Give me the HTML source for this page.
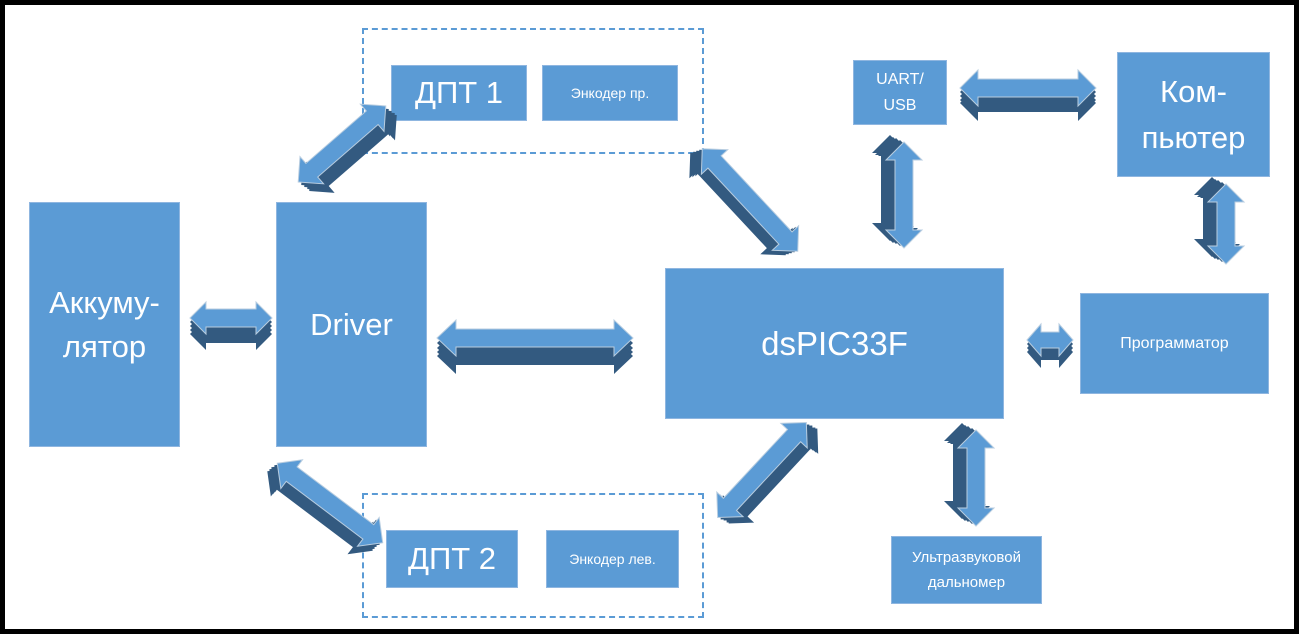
<!DOCTYPE html>
<html><head><meta charset="utf-8"><style>
body{margin:0;background:#fff}
.wrap{position:relative;width:1299px;height:634px;overflow:hidden;background:#fff}
.frame{position:absolute;left:0;top:0;width:1289px;height:624px;border:5px solid #000}
.b{position:absolute;background:#5b9bd5;color:#fff;font-family:"Liberation Sans","DejaVu Sans",sans-serif;display:flex;align-items:center;justify-content:center;text-align:center;border:1px solid #8fb6e0;box-sizing:border-box}
.d{position:absolute;border:2px dashed #5b9bd5;box-sizing:border-box}
svg{position:absolute;left:0;top:0}
.dk use{fill:#335a80}
</style></head><body><div class="wrap">
<div class="d" style="left:362px;top:28px;width:342px;height:126px"></div>
<div class="d" style="left:362px;top:493px;width:342px;height:125px"></div>
<div class="b" style="left:29px;top:202px;width:151px;height:245px;font-size:31px;line-height:44px">Аккуму-<br>лятор</div>
<div class="b" style="left:276px;top:202px;width:151px;height:245px;font-size:31px;align-items:flex-start;padding-top:104px">Driver</div>
<div class="b" style="left:665px;top:268px;width:339px;height:151px;font-size:33px">dsPIC33F</div>
<div class="b" style="left:391px;top:65px;width:136px;height:56px;font-size:31px">ДПТ 1</div>
<div class="b" style="left:542px;top:65px;width:136px;height:56px;font-size:14px">Энкодер пр.</div>
<div class="b" style="left:386px;top:530px;width:132px;height:58px;font-size:31px">ДПТ 2</div>
<div class="b" style="left:546px;top:530px;width:133px;height:58px;font-size:14px">Энкодер лев.</div>
<div class="b" style="left:853px;top:60px;width:94px;height:65px;font-size:16px;line-height:26px">UART/<br>USB</div>
<div class="b" style="left:1117px;top:52px;width:153px;height:125px;font-size:31px;line-height:46px">Ком-<br>пьютер</div>
<div class="b" style="left:1080px;top:293px;width:189px;height:101px;font-size:16px">Программатор</div>
<div class="b" style="left:891px;top:536px;width:151px;height:68px;font-size:15px;line-height:25px">Ультразвуковой<br>дальномер</div>
<svg width="1299" height="634" viewBox="0 0 1299 634">
<defs>
<path id="a1" transform="translate(231,318)" d="M-41,0 L-25,-16 L-25,-9 L25,-9 L25,-16 L41,0 L25,16 L25,9 L-25,9 L-25,16Z"/>
<path id="a2" transform="translate(535,338)" d="M-98,0 L-79,-18 L-79,-9 L79,-9 L79,-18 L98,0 L79,18 L79,9 L-79,9 L-79,18Z"/>
<path id="a3" transform="translate(342,144) rotate(-41)" d="M-58,0 L-40,-18 L-40,-9 L40,-9 L40,-18 L58,0 L40,18 L40,9 L-40,9 L-40,18Z"/>
<path id="a4" transform="translate(750,200) rotate(47)" d="M-70,0 L-52,-18 L-52,-9 L52,-9 L52,-18 L70,0 L52,18 L52,9 L-52,9 L-52,18Z"/>
<path id="a5" transform="translate(330,503) rotate(37)" d="M-66,0 L-48,-18 L-48,-9 L48,-9 L48,-18 L66,0 L48,18 L48,9 L-48,9 L-48,18Z"/>
<path id="a6" transform="translate(762,470) rotate(-47)" d="M-65,0 L-47,-18 L-47,-9 L47,-9 L47,-18 L65,0 L47,18 L47,9 L-47,9 L-47,18Z"/>
<path id="a7" transform="translate(904,195) rotate(90)" d="M-53,0 L-35,-18 L-35,-9 L35,-9 L35,-18 L53,0 L35,18 L35,9 L-35,9 L-35,18Z"/>
<path id="a8" transform="translate(1028,88)" d="M-68,0 L-50,-18 L-50,-9 L50,-9 L50,-18 L68,0 L50,18 L50,9 L-50,9 L-50,18Z"/>
<path id="a9" transform="translate(1226,224) rotate(90)" d="M-40,0 L-22,-18 L-22,-9 L22,-9 L22,-18 L40,0 L22,18 L22,9 L-22,9 L-22,18Z"/>
<path id="a10" transform="translate(1050,340)" d="M-23,0 L-9,-16 L-9,-8 L9,-8 L9,-16 L23,0 L9,16 L9,8 L-9,8 L-9,16Z"/>
<path id="a11" transform="translate(976,478) rotate(90)" d="M-48,0 L-30,-18 L-30,-9 L30,-9 L30,-18 L48,0 L30,18 L30,9 L-30,9 L-30,18Z"/>
</defs>
<g class="dk">
<use href="#a1" transform="translate(0,4)"/><use href="#a1" transform="translate(0,8)"/><use href="#a1" transform="translate(0,12)"/><use href="#a1" transform="translate(0,16)"/>
<use href="#a2" transform="translate(0,5)"/><use href="#a2" transform="translate(0,10)"/><use href="#a2" transform="translate(0,14)"/><use href="#a2" transform="translate(0,18)"/>
<use href="#a3" transform="translate(3,3)"/><use href="#a3" transform="translate(6,5)"/><use href="#a3" transform="translate(9,7)"/><use href="#a3" transform="translate(11,9)"/>
<use href="#a4" transform="translate(-3,1)"/><use href="#a4" transform="translate(-6,2)"/><use href="#a4" transform="translate(-9,3)"/><use href="#a4" transform="translate(-12,4)"/>
<use href="#a5" transform="translate(-3,2)"/><use href="#a5" transform="translate(-6,4)"/><use href="#a5" transform="translate(-8,6)"/><use href="#a5" transform="translate(-10,8)"/>
<use href="#a6" transform="translate(3,2)"/><use href="#a6" transform="translate(6,3)"/><use href="#a6" transform="translate(9,5)"/><use href="#a6" transform="translate(11,6)"/>
<use href="#a7" transform="translate(-4,-2)"/><use href="#a7" transform="translate(-8,-4)"/><use href="#a7" transform="translate(-11,-5)"/><use href="#a7" transform="translate(-14,-7)"/>
<use href="#a8" transform="translate(0,4)"/><use href="#a8" transform="translate(0,8)"/><use href="#a8" transform="translate(0,12)"/><use href="#a8" transform="translate(0,15)"/>
<use href="#a9" transform="translate(-4,-2)"/><use href="#a9" transform="translate(-8,-4)"/><use href="#a9" transform="translate(-11,-5)"/><use href="#a9" transform="translate(-14,-7)"/>
<use href="#a10" transform="translate(0,4)"/><use href="#a10" transform="translate(0,8)"/><use href="#a10" transform="translate(0,12)"/>
<use href="#a11" transform="translate(-4,-2)"/><use href="#a11" transform="translate(-8,-4)"/><use href="#a11" transform="translate(-11,-5)"/><use href="#a11" transform="translate(-14,-7)"/>
</g>
<g fill="#5b9bd5" stroke="#b8cde0" stroke-width="1">
<use href="#a1"/><use href="#a2"/><use href="#a3"/><use href="#a4"/><use href="#a5"/><use href="#a6"/><use href="#a7"/><use href="#a8"/><use href="#a9"/><use href="#a10"/><use href="#a11"/>
</g>
</svg>
<div class="frame"></div>
</div></body></html>
